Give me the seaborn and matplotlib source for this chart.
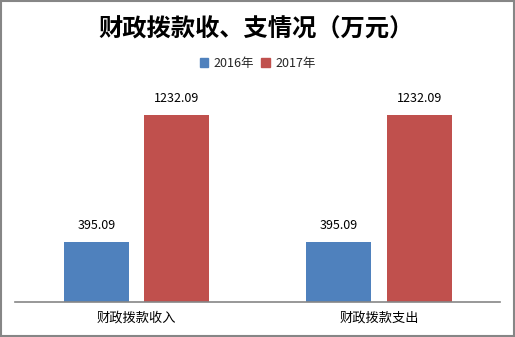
import matplotlib
matplotlib.use("Agg")
import matplotlib.pyplot as plt
from matplotlib.patches import Rectangle
import seaborn as sns
import pandas as pd

categories = ["财政拨款收入", "财政拨款支出"]
years = ["2016年", "2017年"]
values_2016 = [395.09, 395.09]
values_2017 = [1232.09, 1232.09]
title_text = "财政拨款收、支情况（万元）"

colors = ["#4F81BD", "#C0504D"]

df = pd.DataFrame({
    "项目": categories * 2,
    "年份": [years[0]] * len(categories) + [years[1]] * len(categories),
    "金额": values_2016 + values_2017,
})

sns.set_theme(style="white")
plt.rcParams["font.family"] = ["Noto Sans CJK SC", "DejaVu Sans"]

fig = plt.figure(figsize=(5.15, 3.37), dpi=100)
ax = fig.add_axes([0.0296, 0.1039, 0.9418, 0.631])

sns.barplot(data=df, x="项目", y="金额", hue="年份", palette=colors,
            width=0.664, gap=0.193, ax=ax, legend=False, saturation=1,
            linewidth=0, edgecolor="none")

ax.set_xlim(-0.5, 1.5)
ax.set_ylim(0, 1400)
for cont in ax.containers:
    ax.bar_label(cont, fmt="%.2f", padding=7, fontsize=9, color="black")

for s in ["top", "left", "right"]:
    ax.spines[s].set_visible(False)
ax.spines["bottom"].set_color("#868686")
ax.spines["bottom"].set_linewidth(1.2)
ax.set_yticks([])
ax.set_xlabel("")
ax.set_ylabel("")
ax.tick_params(axis="x", length=0, labelsize=9.5, pad=7, colors="black")

fig.text(0.497, 0.912, title_text, ha="center", va="center",
         fontsize=17.5, fontweight="bold", color="black")

handles = [Rectangle((0, 0), 1, 1, color=c) for c in colors]
fig.legend(handles, years, loc="center", bbox_to_anchor=(0.5, 0.812),
           ncol=2, frameon=False, fontsize=9, handlelength=0.7,
           handleheight=0.7, handletextpad=0.4, columnspacing=0.6)

fig.patches.append(Rectangle((0.001, 0.0015), 0.997, 0.996, transform=fig.transFigure,
                             fill=False, edgecolor="#868686", linewidth=1.5))

fig.savefig("out.png", dpi=100)
